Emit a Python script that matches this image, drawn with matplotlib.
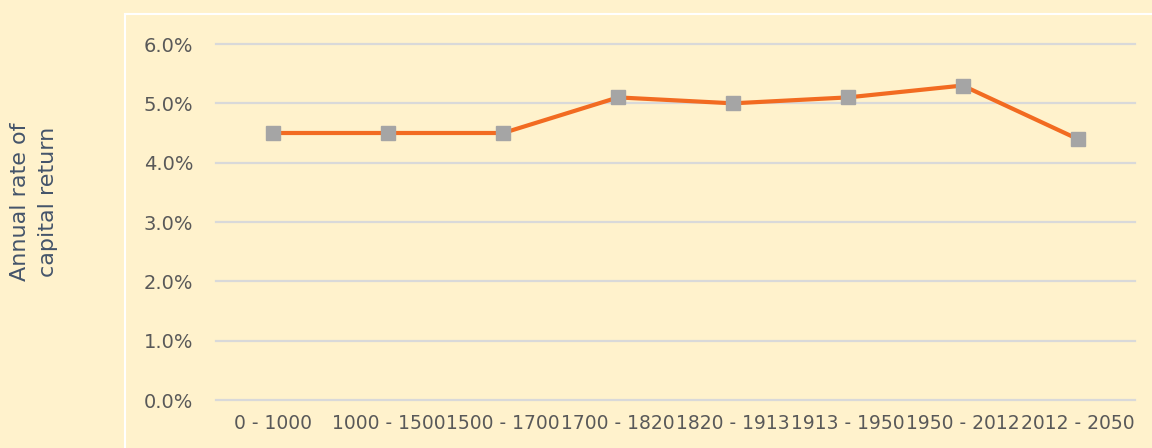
import matplotlib
matplotlib.use("Agg")
import matplotlib.pyplot as plt
from matplotlib.patches import Rectangle
from matplotlib.ticker import FuncFormatter

categories = ["0 - 1000", "1000 - 1500", "1500 - 1700", "1700 - 1820",
              "1820 - 1913", "1913 - 1950", "1950 - 2012", "2012 - 2050"]
returns = [4.5, 4.5, 4.5, 5.1, 5.0, 5.1, 5.3, 4.4]
yticks = [0, 1, 2, 3, 4, 5, 6]

W, H = 1152, 448
bg = "#FFF2CC"
fig = plt.figure(figsize=(W / 100, H / 100), dpi=100, facecolor=bg)

# white frame of the plot area
fig.add_artist(Rectangle((124.5 / W, -0.1), 1.2, (H - 14.5) / H + 0.1,
                         transform=fig.transFigure, fill=False,
                         edgecolor="white", linewidth=1.5))

ax = fig.add_axes([216 / W, (H - 400) / H, (1135 - 216) / W, (400 - 44) / H])
ax.patch.set_alpha(0)

x = list(range(len(categories)))
ax.plot(x, returns, color="#F26B21", linewidth=3, marker="s",
        markersize=10.5, markerfacecolor="#A5A5A5", markeredgecolor="#A5A5A5",
        zorder=3, clip_on=False)

ax.set_xlim(-0.5, len(categories) - 0.5)
ax.set_ylim(0, 6)
ax.set_yticks(yticks)
ax.yaxis.set_major_formatter(FuncFormatter(lambda v, p: f"{v:.1f}%"))
ax.set_xticks(x)
ax.set_xticklabels(categories)
ax.grid(axis="y", color="#D9D9D9", linewidth=1.6)
ax.set_axisbelow(True)
for ln in ax.get_ygridlines():
    ln.set_clip_on(False)
for s in ax.spines.values():
    s.set_visible(False)
ax.tick_params(axis="both", length=0, labelsize=13.5, labelcolor="#595959")
ax.tick_params(axis="y", labelsize=14, pad=16.5)
ax.tick_params(axis="x", pad=10)

fig.text(34 / W, (H - 202) / H, "Annual rate of\ncapital return", rotation=90,
         ha="center", va="center", fontsize=16, color="#44546A",
         linespacing=1.45)

fig.savefig("out.png", dpi=100, facecolor=bg)
